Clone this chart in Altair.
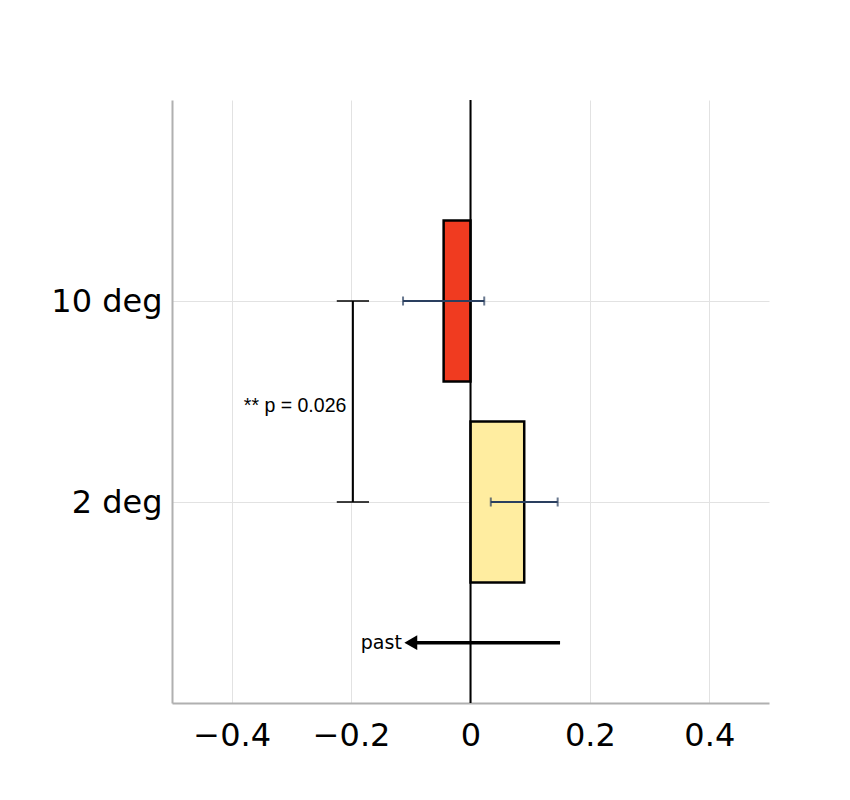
import altair as alt
import pandas as pd

categories = ["10 deg", "2 deg"]
positions = [1, 2]
values = [-0.045, 0.09]
errors = [0.068, 0.056]
colors = ["#F03B20", "#FFEDA0"]

sig_x = -0.197
sig_cap = 0.027
sig_text = "** p = 0.026"
sig_text_x = -0.208

arrow_start = 0.15
arrow_end = -0.1
arrow_y = 2.7
arrow_label = "past"
arrow_label_x = -0.115

bars = pd.DataFrame({"cat": categories, "pos": positions, "val": values,
                     "err": errors, "color": colors})

W, H = 597, 603
xs = alt.Scale(domain=[-0.5, 0.5], nice=False, zero=False)
ys = alt.Scale(domain=[3, 0], nice=False, zero=False)

label_expr = "datum.value == 1 ? '10 deg' : (datum.value == 2 ? '2 deg' : '')"

base = alt.Chart(bars)

bar = base.transform_calculate(
    y0="datum.pos - 0.4", y1="datum.pos + 0.4", zero="0"
).mark_bar(stroke="black", strokeWidth=2.5).encode(
    x=alt.X("zero:Q", scale=xs, axis=alt.Axis(
        values=[-0.4, -0.2, 0, 0.2, 0.4], labelExpr="datum.value == 0 ? '0' : replace(format(datum.value, '.1f'), '-', '\u2212')",
        title=None, ticks=False, domainColor="#b0b0b0", domainWidth=2,
        gridColor="#e2e2e2", gridWidth=1, labelFontSize=32, labelFont="DejaVu Sans",
        labelColor="black", labelPadding=17)),
    x2="val:Q",
    y=alt.Y("y0:Q", scale=ys, axis=alt.Axis(
        values=[1, 2], labelExpr=label_expr, title=None, ticks=False,
        domainColor="#b0b0b0", domainWidth=2, gridColor="#e2e2e2", gridWidth=1,
        labelFontSize=32, labelFont="DejaVu Sans", labelColor="black", labelPadding=10)),
    y2="y1:Q",
    color=alt.Color("color:N", scale=None),
)

zero_line = alt.Chart(pd.DataFrame({"x": [0]})).mark_rule(color="black", strokeWidth=2).encode(
    x=alt.X("x:Q", scale=xs))

err = base.transform_calculate(lo="datum.val - datum.err", hi="datum.val + datum.err").mark_rule(
    color="#2A3F5F", strokeWidth=2).encode(
    x=alt.X("lo:Q", scale=xs), x2="hi:Q", y=alt.Y("pos:Q", scale=ys))
caps_df = pd.DataFrame({
    "x": [v - e for v, e in zip(values, errors)] + [v + e for v, e in zip(values, errors)],
    "pos": positions + positions,
})
caps = alt.Chart(caps_df).mark_tick(orient="vertical", color="#2A3F5F", thickness=2, size=9).encode(
    x=alt.X("x:Q", scale=xs), y=alt.Y("pos:Q", scale=ys))

sig_df = pd.DataFrame({"x": [sig_x], "y0": [positions[0]], "y1": [positions[1]]})
sig_line = alt.Chart(sig_df).mark_rule(color="black", strokeWidth=2).encode(
    x=alt.X("x:Q", scale=xs), y=alt.Y("y0:Q", scale=ys), y2="y1:Q")
sig_caps_df = pd.DataFrame({"x0": [sig_x - sig_cap] * 2, "x1": [sig_x + sig_cap] * 2, "y": positions})
sig_caps = alt.Chart(sig_caps_df).mark_rule(color="black", strokeWidth=1.5).encode(
    x=alt.X("x0:Q", scale=xs), x2="x1:Q", y=alt.Y("y:Q", scale=ys))
sig_label = alt.Chart(pd.DataFrame({"x": [sig_text_x], "y": [1.52], "t": [sig_text]})).mark_text(
    align="right", baseline="middle", font="Liberation Sans", fontSize=19.5, color="black").encode(
    x=alt.X("x:Q", scale=xs), y=alt.Y("y:Q", scale=ys), text="t:N")

arrow_df = pd.DataFrame({"x0": [arrow_start], "x1": [arrow_end], "y": [arrow_y]})
arrow_line = alt.Chart(arrow_df).mark_rule(color="black", strokeWidth=3.5).encode(
    x=alt.X("x0:Q", scale=xs), x2="x1:Q", y=alt.Y("y:Q", scale=ys))
arrow_head = alt.Chart(arrow_df).mark_point(shape="triangle-left", filled=True, color="black",
                                            size=220, opacity=1).encode(
    x=alt.X("x1:Q", scale=xs), y=alt.Y("y:Q", scale=ys))
arrow_label_c = alt.Chart(pd.DataFrame({"x": [arrow_label_x], "y": [arrow_y], "t": [arrow_label]})).mark_text(
    align="right", baseline="middle", font="DejaVu Sans", fontSize=19, color="black").encode(
    x=alt.X("x:Q", scale=xs), y=alt.Y("y:Q", scale=ys), text="t:N")

chart = alt.layer(bar, zero_line, err, caps, sig_line, sig_caps, sig_label,
                  arrow_line, arrow_head, arrow_label_c).properties(
    width=W, height=H,
    autosize=alt.AutoSizeParams(type="none"),
    padding={"left": 172, "top": 100, "right": 81, "bottom": 97},
).configure(background="white", view=alt.ViewConfig(stroke="transparent", strokeWidth=0))

chart.save("out.html", embed_options={"renderer": "svg", "actions": False})
